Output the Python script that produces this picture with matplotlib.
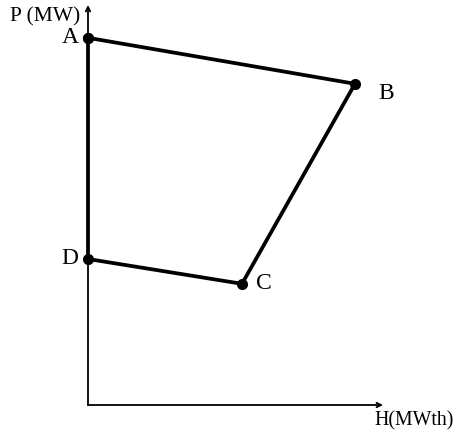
import matplotlib.pyplot as plt

labels = ["A", "B", "C", "D"]
heat = [0.0, 90.5, 52.2, 0.0]
power = [91.8, 80.3, 30.3, 36.5]

plt.rcParams["font.family"] = ["Liberation Serif", "DejaVu Serif"]

fig = plt.figure(figsize=(4.56, 4.36), dpi=100)
ax = fig.add_axes([88 / 456, 31 / 436, 295 / 456, 400 / 436])
ax.set_xlim(0, 100)
ax.set_ylim(0, 100)
ax.axis("off")

# axes with arrows
ax.annotate("", xy=(100, 0), xytext=(0, 0),
            arrowprops=dict(arrowstyle="->", lw=1.3, color="black", mutation_scale=8,
                            shrinkA=0, shrinkB=0))
ax.annotate("", xy=(0, 100), xytext=(0, 0),
            arrowprops=dict(arrowstyle="->", lw=1.3, color="black", mutation_scale=8,
                            shrinkA=0, shrinkB=0))

# operating region
ax.plot(heat + heat[:1], power + power[:1], color="black", lw=2.7,
        marker="o", markersize=7, clip_on=False, zorder=3)

offsets = {"A": (-7, 0), "B": (17, -7), "C": (10, 0), "D": (-7, 0)}
for name, h, p in zip(labels, heat, power):
    dx, dy = offsets[name]
    ax.annotate(name, xy=(h, p), xytext=(dx, dy), textcoords="offset points",
                ha="right" if dx < 0 else "left", va="center", fontsize=17)

ax.text(-2.5, 97, "P (MW)", ha="right", va="center", fontsize=15.5)
ax.text(124, -4, "H(MWth)", ha="right", va="center", fontsize=14.3)

fig.savefig("out.png", dpi=100)
